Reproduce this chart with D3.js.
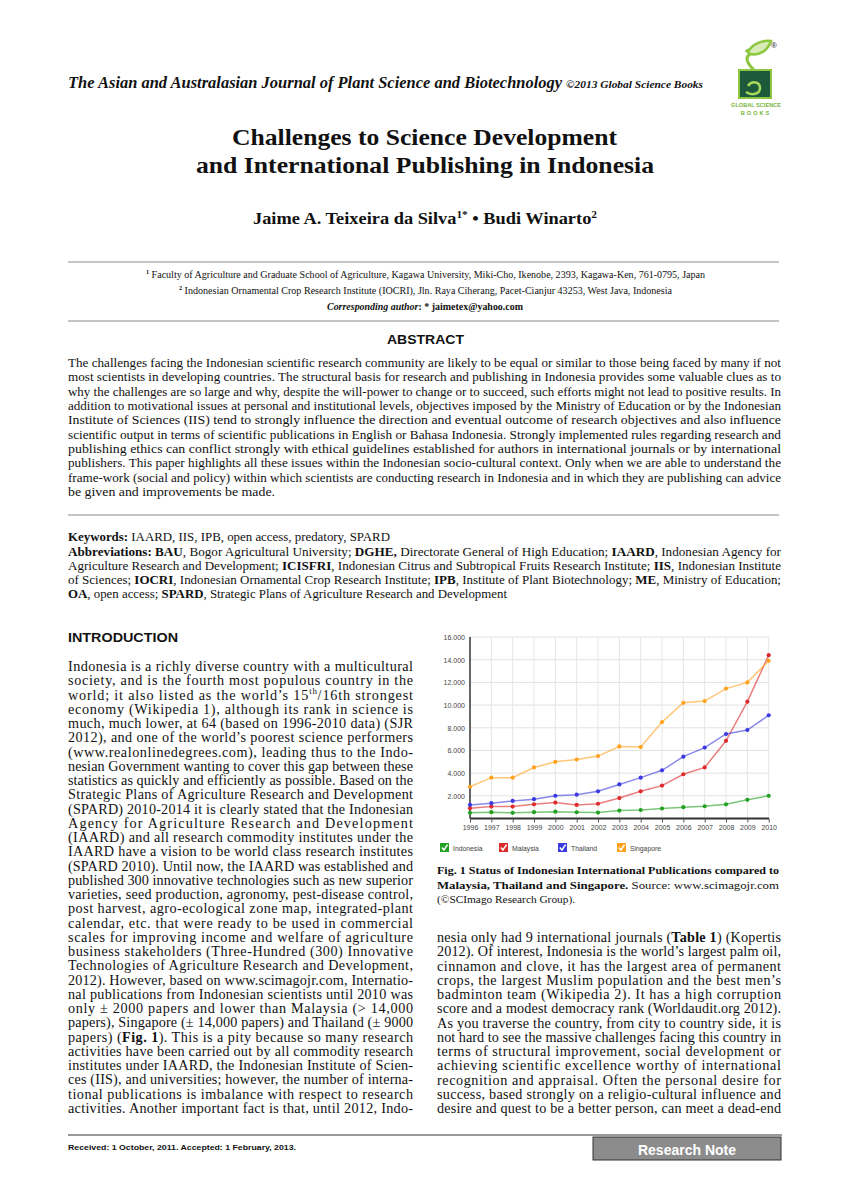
<!DOCTYPE html>
<html><head><meta charset="utf-8">
<script src="https://cdn.jsdelivr.net/npm/d3@7"></script>
<style>html,body{margin:0;padding:0;background:#fff;}svg{display:block;}
.serif{font-family:"Liberation Serif","Times New Roman",Times,serif;}
.sans{font-family:"Liberation Sans",Arial,Helvetica,sans-serif;}
</style>
</head><body>
<svg id="page" width="850" height="1203"></svg>
<script>
// ---------- chart data ----------
const years = ["1996","1997","1998","1999","2000","2001","2002","2003","2004","2005","2006","2007","2008","2009","2010"];
const indonesia = [500,560,500,560,600,550,520,700,750,880,1000,1080,1250,1650,2000];
const malaysia  = [900,1050,1050,1250,1400,1200,1300,1800,2400,2900,3900,4500,6850,10300,14400];
const thailand  = [1200,1350,1550,1700,2000,2100,2400,3000,3600,4250,5450,6250,7450,7800,9100];
const singapore = [2800,3600,3600,4500,5000,5200,5500,6350,6300,8500,10200,10350,11450,12000,13900];
const seriesNames = ["Indonesia","Malaysia","Thailand","Singapore"];
const seriesColors = ["#22a122","#dd2a2a","#3a3ae0","#ffa21e"];
const yTickValues = [2000,4000,6000,8000,10000,12000,14000,16000];
const yTickLabels = ["2.000","4.000","6.000","8.000","10.000","12.000","14.000","16.000"];

const svg = d3.select("#page");
const SERIF = "serif", SANS = "sans";

function line(x1, x2, y, parts, size, family, opt) {
  opt = opt || {};
  const t = svg.append("text").attr("class", family || SERIF).attr("x", x1).attr("y", y)
    .style("font-size", size + "px").attr("fill", opt.fill || "#111");
  if (x2 != null) t.attr("textLength", x2 - x1).attr("lengthAdjust", opt.adjust || "spacingAndGlyphs");
  parts.forEach(p => {
    const f = p[1] || "";
    const ts = t.append("tspan").text(p[0]);
    if (f.includes("b")) ts.style("font-weight", "bold");
    if (f.includes("i")) ts.style("font-style", "italic");
    if (f.includes("s")) { ts.style("font-size", (size * 0.62) + "px").attr("dy", -size * 0.38); }
    if (f.includes("d")) { ts.attr("dy", size * 0.38); }
  });
  return t;
}
const P = s => [[s, ""]];

// ---------- header ----------
line(68, 562, 88, [["The Asian and Australasian Journal of Plant Science and Biotechnology", "bi"]], 16.5);
line(566, 703, 88, [["©2013 Global Science Books", "bi"]], 10.5);

// logo
const lg = svg.append("g");
lg.append("rect").attr("x", 739).attr("y", 70).attr("width", 32).attr("height", 28).attr("fill", "#1d5a3c").attr("stroke", "#8dc63f").attr("stroke-width", 2);
lg.append("path").attr("d", "M748,86 C752,80 760,82 760,88 C760,94 752,96 746,92").attr("fill", "none").attr("stroke", "#a6d85a").attr("stroke-width", 2.5);
lg.append("path").attr("d", "M754,70 C748,64 744,58 750,54 C756,50 748,48 746,52").attr("fill", "none").attr("stroke", "#8dc63f").attr("stroke-width", 3);
lg.append("path").attr("d", "M748,52 C752,44 762,40 771,41 C768,50 760,56 750,54 Z").attr("fill", "#d7ecb4").attr("stroke", "#8dc63f").attr("stroke-width", 2.5);
lg.append("text").attr("class", "sans").attr("x", 771).attr("y", 48).style("font-size", "8px").attr("fill", "#222").text("®");
lg.append("text").attr("class", "sans").attr("x", 756).attr("y", 107).attr("text-anchor", "middle").style("font-weight", "bold").style("font-size", "5.6px").attr("fill", "#78b43a").text("GLOBAL SCIENCE");
lg.append("text").attr("class", "sans").attr("x", 756).attr("y", 115).attr("text-anchor", "middle").style("font-weight", "bold").style("font-size", "5.6px").attr("letter-spacing", 2).attr("fill", "#78b43a").text("BOOKS");

// ---------- title block ----------
line(232, 617, 145, [["Challenges to Science Development", "b"]], 24);
line(196, 654, 173, [["and International Publishing in Indonesia", "b"]], 24);
line(253, 597, 224, [["Jaime A. Teixeira da Silva", "b"], ["1*", "bs"], [" • Budi Winarto", "bd"], ["2", "bs"]], 16);

const rule = (y, w) => svg.append("line").attr("x1", 68).attr("x2", 779).attr("y1", y).attr("y2", y).attr("stroke", "#8a8a8a").attr("stroke-width", w || 1);
rule(262);
line(146, 705, 278, [["1", "bs"], [" Faculty of Agriculture and Graduate School of Agriculture, Kagawa University, Miki-Cho, Ikenobe, 2393, Kagawa-Ken, 761-0795, Japan", "d"]], 10);
line(179, 672, 294, [["2", "bs"], [" Indonesian Ornamental Crop Research Institute (IOCRI), Jln. Raya Ciherang, Pacet-Cianjur 43253, West Java, Indonesia", "d"]], 10);
line(327, 523, 310, [["Corresponding author", "bi"], [": * jaimetex@yahoo.com", "b"]], 10);
rule(321);

// ---------- abstract ----------
line(387, 464, 344, [["ABSTRACT", "b"]], 13, SANS);
const abstractLines = [
 "The challenges facing the Indonesian scientific research community are likely to be equal or similar to those being faced by many if not",
 "most scientists in developing countries. The structural basis for research and publishing in Indonesia provides some valuable clues as to",
 "why the challenges are so large and why, despite the will-power to change or to succeed, such efforts might not lead to positive results. In",
 "addition to motivational issues at personal and institutional levels, objectives imposed by the Ministry of Education or by the Indonesian",
 "Institute of Sciences (IIS) tend to strongly influence the direction and eventual outcome of research objectives and also influence",
 "scientific output in terms of scientific publications in English or Bahasa Indonesia. Strongly implemented rules regarding research and",
 "publishing ethics can conflict strongly with ethical guidelines established for authors in international journals or by international",
 "publishers. This paper highlights all these issues within the Indonesian socio-cultural context. Only when we are able to understand the",
 "frame-work (social and policy) within which scientists are conducting research in Indonesia and in which they are publishing can advice",
 "be given and improvements be made."
];
abstractLines.forEach((s, i) => line(68, i === 9 ? 275 : 781, 367 + i * 14.33, P(s), 12));
rule(515);

// keywords / abbreviations
line(68, 390, 541, [["Keywords:", "b"], [" IAARD, IIS, IPB, open access, predatory, SPARD", ""]], 12);
line(68, 781, 555.5, [["Abbreviations: BAU", "b"], [", Bogor Agricultural University; ", ""], ["DGHE,", "b"], [" Directorate General of High Education; ", ""], ["IAARD", "b"], [", Indonesian Agency for", ""]], 12);
line(68, 781, 569.8, [["Agriculture Research and Development; ", ""], ["ICISFRI", "b"], [", Indonesian Citrus and Subtropical Fruits Research Institute; ", ""], ["IIS", "b"], [", Indonesian Institute", ""]], 12);
line(68, 781, 584.1, [["of Sciences; ", ""], ["IOCRI", "b"], [", Indonesian Ornamental Crop Research Institute; ", ""], ["IPB", "b"], [", Institute of Plant Biotechnology; ", ""], ["ME", "b"], [", Ministry of Education;", ""]], 12);
line(68, 507, 598.4, [["OA", "b"], [", open access; ", ""], ["SPARD", "b"], [", Strategic Plans of Agriculture Research and Development", ""]], 12);

// ---------- introduction (left column) ----------
line(68, 178, 642, [["INTRODUCTION", "b"]], 12.5, SANS);
const leftLines = [
 P("Indonesia is a richly diverse country with a multicultural"),
 P("society, and is the fourth most populous country in the"),
 [["world; it also listed as the world’s 15", ""], ["th", "s"], ["/16th strongest", "d"]],
 P("economy (Wikipedia 1), although its rank in science is"),
 P("much, much lower, at 64 (based on 1996-2010 data) (SJR"),
 P("2012), and one of the world’s poorest science performers"),
 P("(www.realonlinedegrees.com), leading thus to the Indo-"),
 P("nesian Government wanting to cover this gap between these"),
 P("statistics as quickly and efficiently as possible. Based on the"),
 P("Strategic Plans of Agriculture Research and Development"),
 P("(SPARD) 2010-2014 it is clearly stated that the Indonesian"),
 P("Agency for Agriculture Research and Development"),
 P("(IAARD) and all research commodity institutes under the"),
 P("IAARD have a vision to be world class research institutes"),
 P("(SPARD 2010). Until now, the IAARD was established and"),
 P("published 300 innovative technologies such as new superior"),
 P("varieties, seed production, agronomy, pest-disease control,"),
 P("post harvest, agro-ecological zone map, integrated-plant"),
 P("calendar, etc. that were ready to be used in commercial"),
 P("scales for improving income and welfare of agriculture"),
 P("business stakeholders (Three-Hundred (300) Innovative"),
 P("Technologies of Agriculture Research and Development,"),
 P("2012). However, based on www.scimagojr.com, Internatio-"),
 P("nal publications from Indonesian scientists until 2010 was"),
 P("only ± 2000 papers and lower than Malaysia (> 14,000"),
 P("papers), Singapore (± 14,000 papers) and Thailand (± 9000"),
 [["papers) (", ""], ["Fig. 1", "b"], ["). This is a pity because so many research", ""]],
 P("activities have been carried out by all commodity research"),
 P("institutes under IAARD, the Indonesian Institute of Scien-"),
 P("ces (IIS), and universities; however, the number of interna-"),
 P("tional publications is imbalance with respect to research"),
 P("activities. Another important fact is that, until 2012, Indo-")
];
leftLines.forEach((p, i) => line(68, 413, 671 + i * 14.25, p, 14.2, SERIF, {adjust: "spacing"}));

// ---------- right column ----------
line(437, 779, 874, [["Fig. 1 Status of Indonesian International Publications compared to", "b"]], 10.5);
line(437, 779, 888.5, [["Malaysia, Thailand and Singapore.", "b"], [" Source: www.scimagojr.com", ""]], 10.5);
line(437, 575, 903, P("(©SCImago Research Group)."), 10.5);
const rightLines = [
 [["nesia only had 9 international journals (", ""], ["Table 1", "b"], [") (Kopertis", ""]],
 P("2012). Of interest, Indonesia is the world’s largest palm oil,"),
 P("cinnamon and clove, it has the largest area of permanent"),
 P("crops, the largest Muslim population and the best men’s"),
 P("badminton team (Wikipedia 2). It has a high corruption"),
 P("score and a modest democracy rank (Worldaudit.org 2012)."),
 P("As you traverse the country, from city to country side, it is"),
 P("not hard to see the massive challenges facing this country in"),
 P("terms of structural improvement, social development or"),
 P("achieving scientific excellence worthy of international"),
 P("recognition and appraisal. Often the personal desire for"),
 P("success, based strongly on a religio-cultural influence and"),
 P("desire and quest to be a better person, can meet a dead-end")
];
rightLines.forEach((p, i) => line(437, 781, 942 + i * 14.25, p, 14.2, SERIF, {adjust: "spacing"}));

// ---------- footer ----------
svg.append("line").attr("x1", 68).attr("x2", 782).attr("y1", 1135).attr("y2", 1135).attr("stroke", "#777").attr("stroke-width", 1.6);
line(68, 296, 1150, [["Received: 1 October, 2011. Accepted: 1 February, 2013.", "b"]], 8, SANS);
svg.append("rect").attr("x", 593).attr("y", 1137).attr("width", 188).attr("height", 23).attr("fill", "#8c8c8c").attr("stroke", "#333").attr("stroke-width", 1);
svg.append("text").attr("class", "sans").attr("x", 687).attr("y", 1154.5).attr("text-anchor", "middle").style("font-weight", "bold").style("font-size", "14px").attr("fill", "#fff").text("Research Note");

// ---------- chart ----------
const x = d3.scalePoint().domain(years).range([470, 768.7]);
const y = d3.scaleLinear().domain([0, 16000]).range([818.5, 637]);
const ch = svg.append("g").attr("class", "sans");

ch.append("g").selectAll("line").data(yTickValues).join("line")
  .attr("x1", 470).attr("x2", 768.7).attr("y1", d => y(d)).attr("y2", d => y(d))
  .attr("stroke", "#e2e2e2").attr("stroke-width", 1);
ch.append("g").selectAll("line").data(years.slice(1)).join("line")
  .attr("x1", d => x(d)).attr("x2", d => x(d)).attr("y1", y(16000)).attr("y2", y(0))
  .attr("stroke", "#e6e6e6").attr("stroke-width", 1);

const yAxis = d3.axisLeft(y).tickValues(yTickValues).tickFormat((d, i) => yTickLabels[i]).tickSize(0).tickPadding(5);
const yg = ch.append("g").attr("transform", "translate(470,0)").call(yAxis);
yg.attr("font-family", null);
yg.select(".domain").attr("stroke", "#333").attr("stroke-width", 1.5).attr("d", `M0,${y(16000)}V${y(0)}`);
yg.selectAll("text").style("font-size", "7px").attr("fill", "#444").attr("dy", "0.35em");

const xAxis = d3.axisBottom(x).tickSize(4).tickPadding(3);
const xg = ch.append("g").attr("transform", `translate(0,${y(0)})`).call(xAxis);
xg.attr("font-family", null);
xg.select(".domain").attr("stroke", "#333").attr("stroke-width", 2).attr("d", "M470,0H769");
xg.selectAll(".tick line").attr("stroke", "#555");
xg.selectAll("text").style("font-size", "7px").attr("fill", "#444");

const allSeries = [indonesia, malaysia, thailand, singapore];
const lineGen = d3.line().x((d, i) => x(years[i])).y(d => y(d));
allSeries.forEach((vals, k) => {
  ch.append("path").datum(vals).attr("d", lineGen).attr("fill", "none")
    .attr("stroke", seriesColors[k]).attr("stroke-opacity", 0.6).attr("stroke-width", 1.5);
});
allSeries.forEach((vals, k) => {
  ch.append("g").selectAll("circle").data(vals).join("circle")
    .attr("cx", (d, i) => x(years[i])).attr("cy", d => y(d)).attr("r", 2.1)
    .attr("fill", seriesColors[k]);
});

const legendX = [440, 499, 558, 617];
const lgd = ch.append("g").selectAll("g").data(seriesNames).join("g")
  .attr("transform", (d, i) => `translate(${legendX[i]},843)`);
lgd.append("rect").attr("width", 9).attr("height", 9).attr("fill", (d, i) => seriesColors[i]);
lgd.append("path").attr("d", "M1.8,4.6 L3.9,7 L7.6,1.6").attr("fill", "none").attr("stroke", "#fff").attr("stroke-width", 1.5);
lgd.append("text").attr("x", 13).attr("y", 7.5).style("font-size", "6.8px").attr("fill", "#444").text(d => d);
</script>
</body></html>
